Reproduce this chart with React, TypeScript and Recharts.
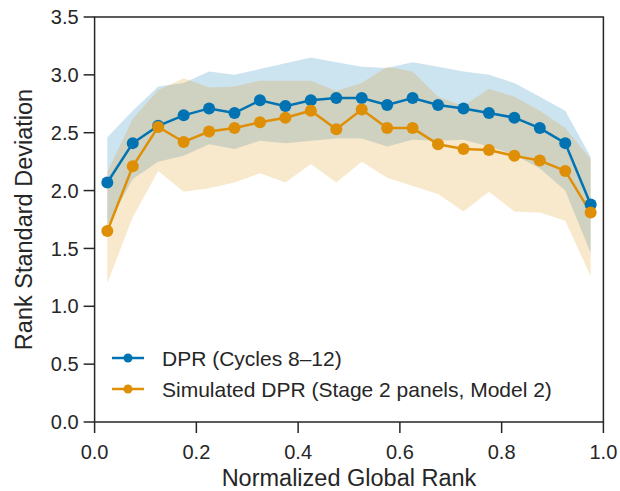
import React from 'react';
import {
  ComposedChart,
  Area,
  Line,
  XAxis,
  YAxis,
  Legend,
  ReferenceArea,
} from 'recharts';

const rankBins = [
  0.025, 0.075, 0.125, 0.175, 0.225, 0.275, 0.325, 0.375, 0.425, 0.475,
  0.525, 0.575, 0.625, 0.675, 0.725, 0.775, 0.825, 0.875, 0.925, 0.975,
];

const dprMean = [2.07, 2.41, 2.56, 2.65, 2.71, 2.67, 2.78, 2.73, 2.78, 2.8, 2.8, 2.74, 2.8, 2.74, 2.71, 2.67, 2.63, 2.54, 2.41, 1.88];
const dprUpper = [2.46, 2.69, 2.9, 2.93, 3.03, 3.0, 3.05, 3.1, 3.15, 3.11, 3.07, 3.06, 3.11, 3.07, 3.03, 3.0, 2.93, 2.81, 2.69, 2.29];
const dprLower = [1.7, 2.1, 2.25, 2.3, 2.4, 2.36, 2.43, 2.41, 2.43, 2.45, 2.45, 2.38, 2.44, 2.43, 2.44, 2.38, 2.31, 2.19, 2.0, 1.46];

const simMean = [1.65, 2.21, 2.55, 2.42, 2.51, 2.54, 2.59, 2.63, 2.69, 2.53, 2.7, 2.54, 2.54, 2.4, 2.36, 2.35, 2.3, 2.26, 2.17, 1.81];
const simUpper = [2.16, 2.62, 2.87, 2.97, 2.89, 2.9, 2.95, 2.95, 2.95, 2.86, 2.93, 3.07, 3.03, 2.81, 2.73, 2.88, 2.81, 2.69, 2.54, 2.27];
const simLower = [1.2, 1.77, 2.17, 1.99, 2.02, 2.07, 2.15, 2.07, 2.23, 2.07, 2.25, 2.11, 2.04, 1.97, 1.82, 1.99, 1.82, 1.81, 1.74, 1.26];

const xTicks = [0, 0.2, 0.4, 0.6, 0.8, 1.0];
const yTicks = [0, 0.5, 1.0, 1.5, 2.0, 2.5, 3.0, 3.5];

const seriesNames = ['DPR (Cycles 8–12)', 'Simulated DPR (Stage 2 panels, Model 2)'];

const BLUE = '#0173b2';
const ORANGE = '#de8f05';
const INK = '#262626';
const FONT = "'Liberation Sans', Arial, sans-serif";

const data = rankBins.map((x, i) => ({
  x,
  dpr: dprMean[i],
  dprBand: [dprLower[i], dprUpper[i]],
  sim: simMean[i],
  simBand: [simLower[i], simUpper[i]],
}));

const renderLegend = () => (
  <svg width={470} height={70} style={{ display: 'block' }}>
    {[BLUE, ORANGE].map((c, i) => {
      const cy = 18 + i * 31;
      return (
        <g key={i}>
          <line x1={12} x2={44} y1={cy} y2={cy} stroke={c} strokeWidth={2.5} />
          <circle cx={28} cy={cy} r={4.5} fill={c} />
          <text x={62} y={cy + 7.5} fontSize={21} fill={INK} fontFamily={FONT}>
            {seriesNames[i]}
          </text>
        </g>
      );
    })}
  </svg>
);

const YLabel = () => (
  <text
    x={24}
    y={219.5}
    transform="rotate(-90 24 219.5)"
    textAnchor="middle"
    dominantBaseline="central"
    fontSize={23.5}
    fill={INK}
    fontFamily={FONT}
  >
    Rank Standard Deviation
  </text>
);

export default function App() {
  return (
    <div style={{ position: 'absolute', left: 0, top: 0, background: '#fff' }}>
      <ComposedChart
        width={620}
        height={491}
        data={data}
        margin={{ top: 17, right: 16.6, bottom: 0, left: 0 }}
      >
        <XAxis
          dataKey="x"
          type="number"
          domain={[0, 1]}
          ticks={xTicks}
          tickFormatter={(v) => v.toFixed(1)}
          height={69}
          tickSize={11}
          tickMargin={12}
          axisLine={false}
          tickLine={{ stroke: INK, strokeWidth: 1.5 }}
          tick={{ fill: INK, fontSize: 20, fontFamily: FONT }}
          label={{
            value: 'Normalized Global Rank',
            position: 'insideBottom',
            offset: 5,
            fill: INK,
            fontSize: 23.5,
            fontFamily: FONT,
          }}
        />
        <YAxis
          type="number"
          domain={[0, 3.5]}
          ticks={yTicks}
          tickFormatter={(v) => v.toFixed(1)}
          width={94.6}
          tickSize={11}
          tickMargin={5}
          axisLine={false}
          tickLine={{ stroke: INK, strokeWidth: 1.5 }}
          tick={{ fill: INK, fontSize: 20, fontFamily: FONT }}
          label={{ content: () => <YLabel /> }}
        />
        <Area
          type="linear"
          dataKey="dprBand"
          stroke="none"
          fill={BLUE}
          fillOpacity={0.2}
          isAnimationActive={false}
          activeDot={false}
        />
        <Area
          type="linear"
          dataKey="simBand"
          stroke="none"
          fill={ORANGE}
          fillOpacity={0.2}
          isAnimationActive={false}
          activeDot={false}
        />
        <Line
          type="linear"
          dataKey="dpr"
          stroke={BLUE}
          strokeWidth={2.5}
          dot={{ r: 6, fill: BLUE, stroke: BLUE, strokeWidth: 0 }}
          isAnimationActive={false}
        />
        <Line
          type="linear"
          dataKey="sim"
          stroke={ORANGE}
          strokeWidth={2.5}
          dot={{ r: 6, fill: ORANGE, stroke: ORANGE, strokeWidth: 0 }}
          isAnimationActive={false}
        />
        <ReferenceArea
          x1={0}
          x2={1}
          y1={0}
          y2={3.5}
          fill="none"
          stroke={INK}
          strokeWidth={1.5}
          ifOverflow="visible"
        />
        <Legend
          layout="vertical"
          align="center"
          verticalAlign="middle"
          content={renderLegend}
          wrapperStyle={{ left: 100, top: 340, width: 470, height: 70 }}
        />
      </ComposedChart>
    </div>
  );
}
